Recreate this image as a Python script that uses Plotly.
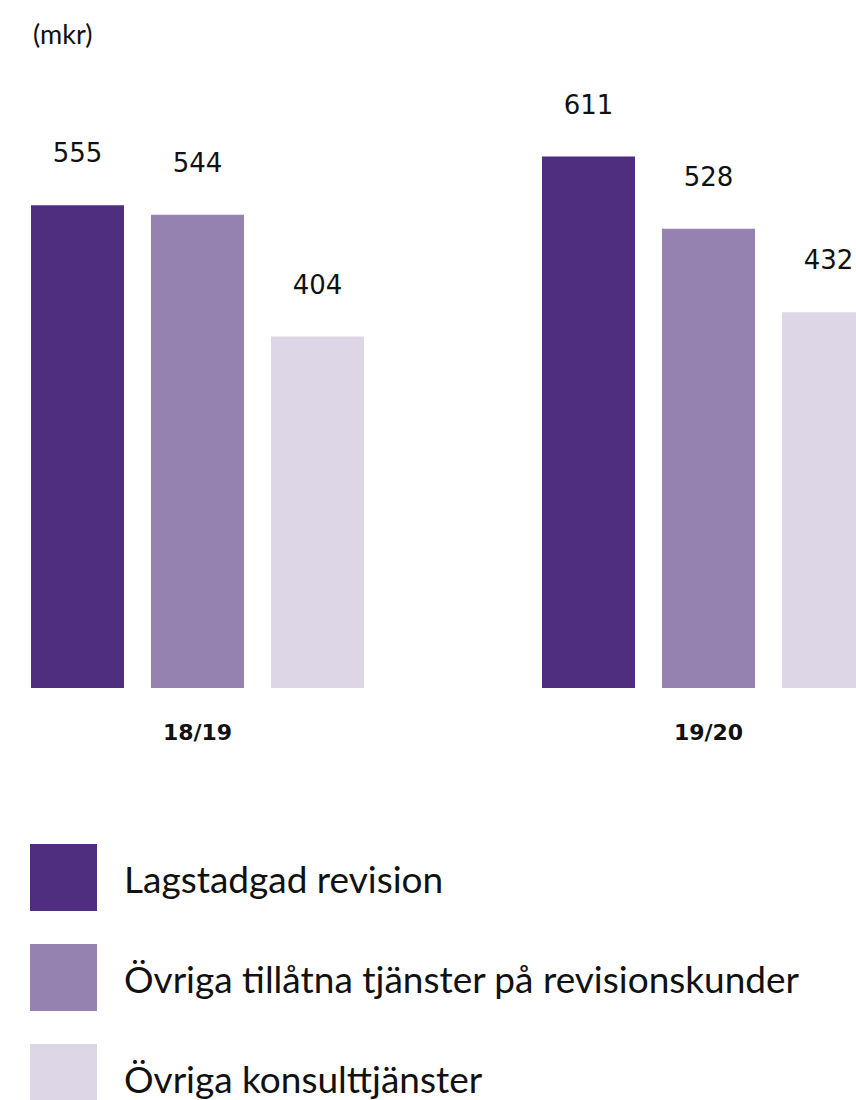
import plotly.graph_objects as go

# ---- data ----
years = ["18/19", "19/20"]
series_names = [
    "Lagstadgad revision",
    "Övriga tillåtna tjänster på revisionskunder",
    "Övriga konsulttjänster",
]
lagstadgad = [555, 611]
ovriga_tillatna = [544, 528]
ovriga_konsult = [404, 432]
unit_label = "(mkr)"

colors = ["#4F2D7F", "#9682B1", "#DCD6E6"]
values = [lagstadgad, ovriga_tillatna, ovriga_konsult]

W, H = 856, 1100
text_font = "Lato, 'Noto Sans', sans-serif"
num_font = "'DejaVu Sans', sans-serif"

fig = go.Figure()
for name, vals, col in zip(series_names, values, colors):
    fig.add_trace(go.Bar(
        x=[f"<b>{y}</b>" for y in years],
        y=vals,
        name=name,
        marker=dict(color=col, line=dict(width=0)),
        text=[f"{v}<br> " for v in vals],
        textposition="outside",
        cliponaxis=False,
        textfont=dict(size=26, color="#111111", family=num_font),
        showlegend=False,
        hoverinfo="skip",
    ))

# axis geometry (pixels -> ranges)
baseline_px = 688
px_per_unit = 0.87
group_spacing = 511
first_center = 197.5
x0 = -first_center / group_spacing
x1 = x0 + W / group_spacing

fig.update_layout(
    width=W, height=H,
    margin=dict(l=0, r=0, t=0, b=0),
    paper_bgcolor="white", plot_bgcolor="white",
    barmode="group",
    bargap=1 - 360 / group_spacing,
    bargroupgap=27 / 120,
    font=dict(family=text_font, color="#111111"),
    xaxis=dict(
        range=[x0, x1], showgrid=False, zeroline=False, showline=False,
        ticks="outside", ticklen=25, tickcolor="rgba(0,0,0,0)",
        tickfont=dict(size=22, color="#111111", family=num_font),
        fixedrange=True,
    ),
    yaxis=dict(
        domain=[(H - baseline_px) / H, 1],
        range=[0, baseline_px / px_per_unit],
        showgrid=False, zeroline=False, showline=False,
        showticklabels=False, ticks="", fixedrange=True,
    ),
)

# unit label
fig.add_annotation(
    x=31 / W, y=1 - 33 / H, xref="paper", yref="paper",
    text=unit_label, showarrow=False, xanchor="left", yanchor="middle",
    font=dict(size=27, color="#111111", family=text_font),
)

# custom legend with large squares
leg_top = 844
leg_step = 100
sq = 67
for i, (name, col) in enumerate(zip(series_names, colors)):
    top = leg_top + i * leg_step
    fig.add_shape(
        type="rect", xref="paper", yref="paper",
        x0=30 / W, x1=(30 + sq) / W,
        y0=1 - (top + sq) / H, y1=1 - top / H,
        fillcolor=col, line=dict(width=0),
    )
    fig.add_annotation(
        x=122 / W, y=1 - (top + sq / 2 + 1) / H, xref="paper", yref="paper",
        text=name, showarrow=False, xanchor="left", yanchor="middle",
        font=dict(size=37, color="#111111", family=text_font),
    )

fig.write_html(
    "out.html",
    config={"displayModeBar": False, "staticPlot": True},
    post_script="document.body.style.margin='0';document.body.style.overflow='hidden';",
)
